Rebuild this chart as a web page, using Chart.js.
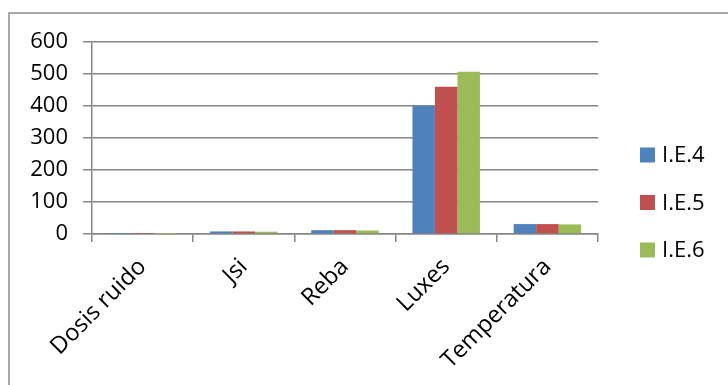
<!DOCTYPE html>
<html>
<head>
<meta charset="utf-8">
<script src="https://cdn.jsdelivr.net/npm/chart.js@4/dist/chart.umd.min.js"></script>
<style>
  html, body { margin: 0; padding: 0; background: #fff; }
  #wrap { width: 728px; height: 385px; position: relative; }
</style>
</head>
<body>
<div id="wrap"><canvas id="c" width="728" height="385"></canvas></div>
<script>
// Categories and series values
const categories = ['Dosis ruido', 'Jsi', 'Reba', 'Luxes', 'Temperatura'];
const ie4 = [0.5, 8, 12, 400, 31];
const ie5 = [0.5, 8, 12, 460, 31];
const ie6 = [0.5, 7, 11, 507, 30];
const seriesNames = ['I.E.4', 'I.E.5', 'I.E.6'];
const yTicks = [0, 100, 200, 300, 400, 500, 600];

const COLORS = ['#4F81BD', '#C0504D', '#9BBB59'];
const GRID = '#868686';
const FONT = 'Open Sans';

// Gray frame around the whole chart
const framePlugin = {
  id: 'frame',
  beforeDraw(chart) {
    const ctx = chart.ctx;
    ctx.save();
    ctx.strokeStyle = '#8c8c8c';
    ctx.lineWidth = 1.5;
    ctx.strokeRect(9, 13, 900, 600);
    ctx.restore();
  }
};

// Legend on the right with square swatches
const sideLegend = {
  id: 'sideLegend',
  afterDraw(chart) {
    const ctx = chart.ctx;
    ctx.save();
    ctx.font = '22px "' + FONT + '"';
    ctx.textBaseline = 'middle';
    ctx.textAlign = 'left';
    chart.data.datasets.forEach((ds, i) => {
      const cy = 155 + i * 47.5;
      ctx.fillStyle = ds.backgroundColor;
      ctx.fillRect(640, cy - 7.5, 15, 15);
      ctx.fillStyle = '#000';
      ctx.fillText(ds.label, 662, cy + 1);
    });
    ctx.restore();
  }
};

const seriesData = [ie4, ie5, ie6];

new Chart(document.getElementById('c'), {
  type: 'bar',
  data: {
    labels: categories,
    datasets: seriesNames.map((name, i) => ({
      label: name,
      data: seriesData[i],
      backgroundColor: COLORS[i],
      borderWidth: 0,
      barPercentage: 1,
      categoryPercentage: 0.667
    }))
  },
  options: {
    responsive: false,
    animation: false,
    devicePixelRatio: 1,
    layout: { padding: { left: 0, right: 130, top: 42, bottom: 0 } },
    plugins: {
      legend: { display: false },
      tooltip: { enabled: false }
    },
    scales: {
      x: {
        offset: true,
        grid: {
          display: true,
          offset: true,
          drawOnChartArea: false,
          drawTicks: true,
          tickLength: 8,
          color: GRID,
          lineWidth: 1.5
        },
        border: { display: true, color: GRID, width: 1.5 },
        ticks: {
          color: '#000',
          font: { family: FONT, size: 23.5 },
          minRotation: 45,
          maxRotation: 45,
          autoSkip: false,
          padding: 11
        },
        afterFit(scale) { scale.height = 151; }
      },
      y: {
        min: 0,
        max: 600,
        afterBuildTicks(scale) { scale.ticks = yTicks.map(v => ({ value: v })); },
        grid: {
          color: GRID,
          lineWidth: 1.5,
          drawTicks: true,
          tickLength: 9
        },
        border: { display: true, color: GRID, width: 1.5 },
        ticks: {
          color: '#000',
          font: { family: FONT, size: 22 },
          padding: 15
        },
        afterFit(scale) { scale.width = 92; }
      }
    }
  },
  plugins: [framePlugin, sideLegend]
});
</script>
</body>
</html>
